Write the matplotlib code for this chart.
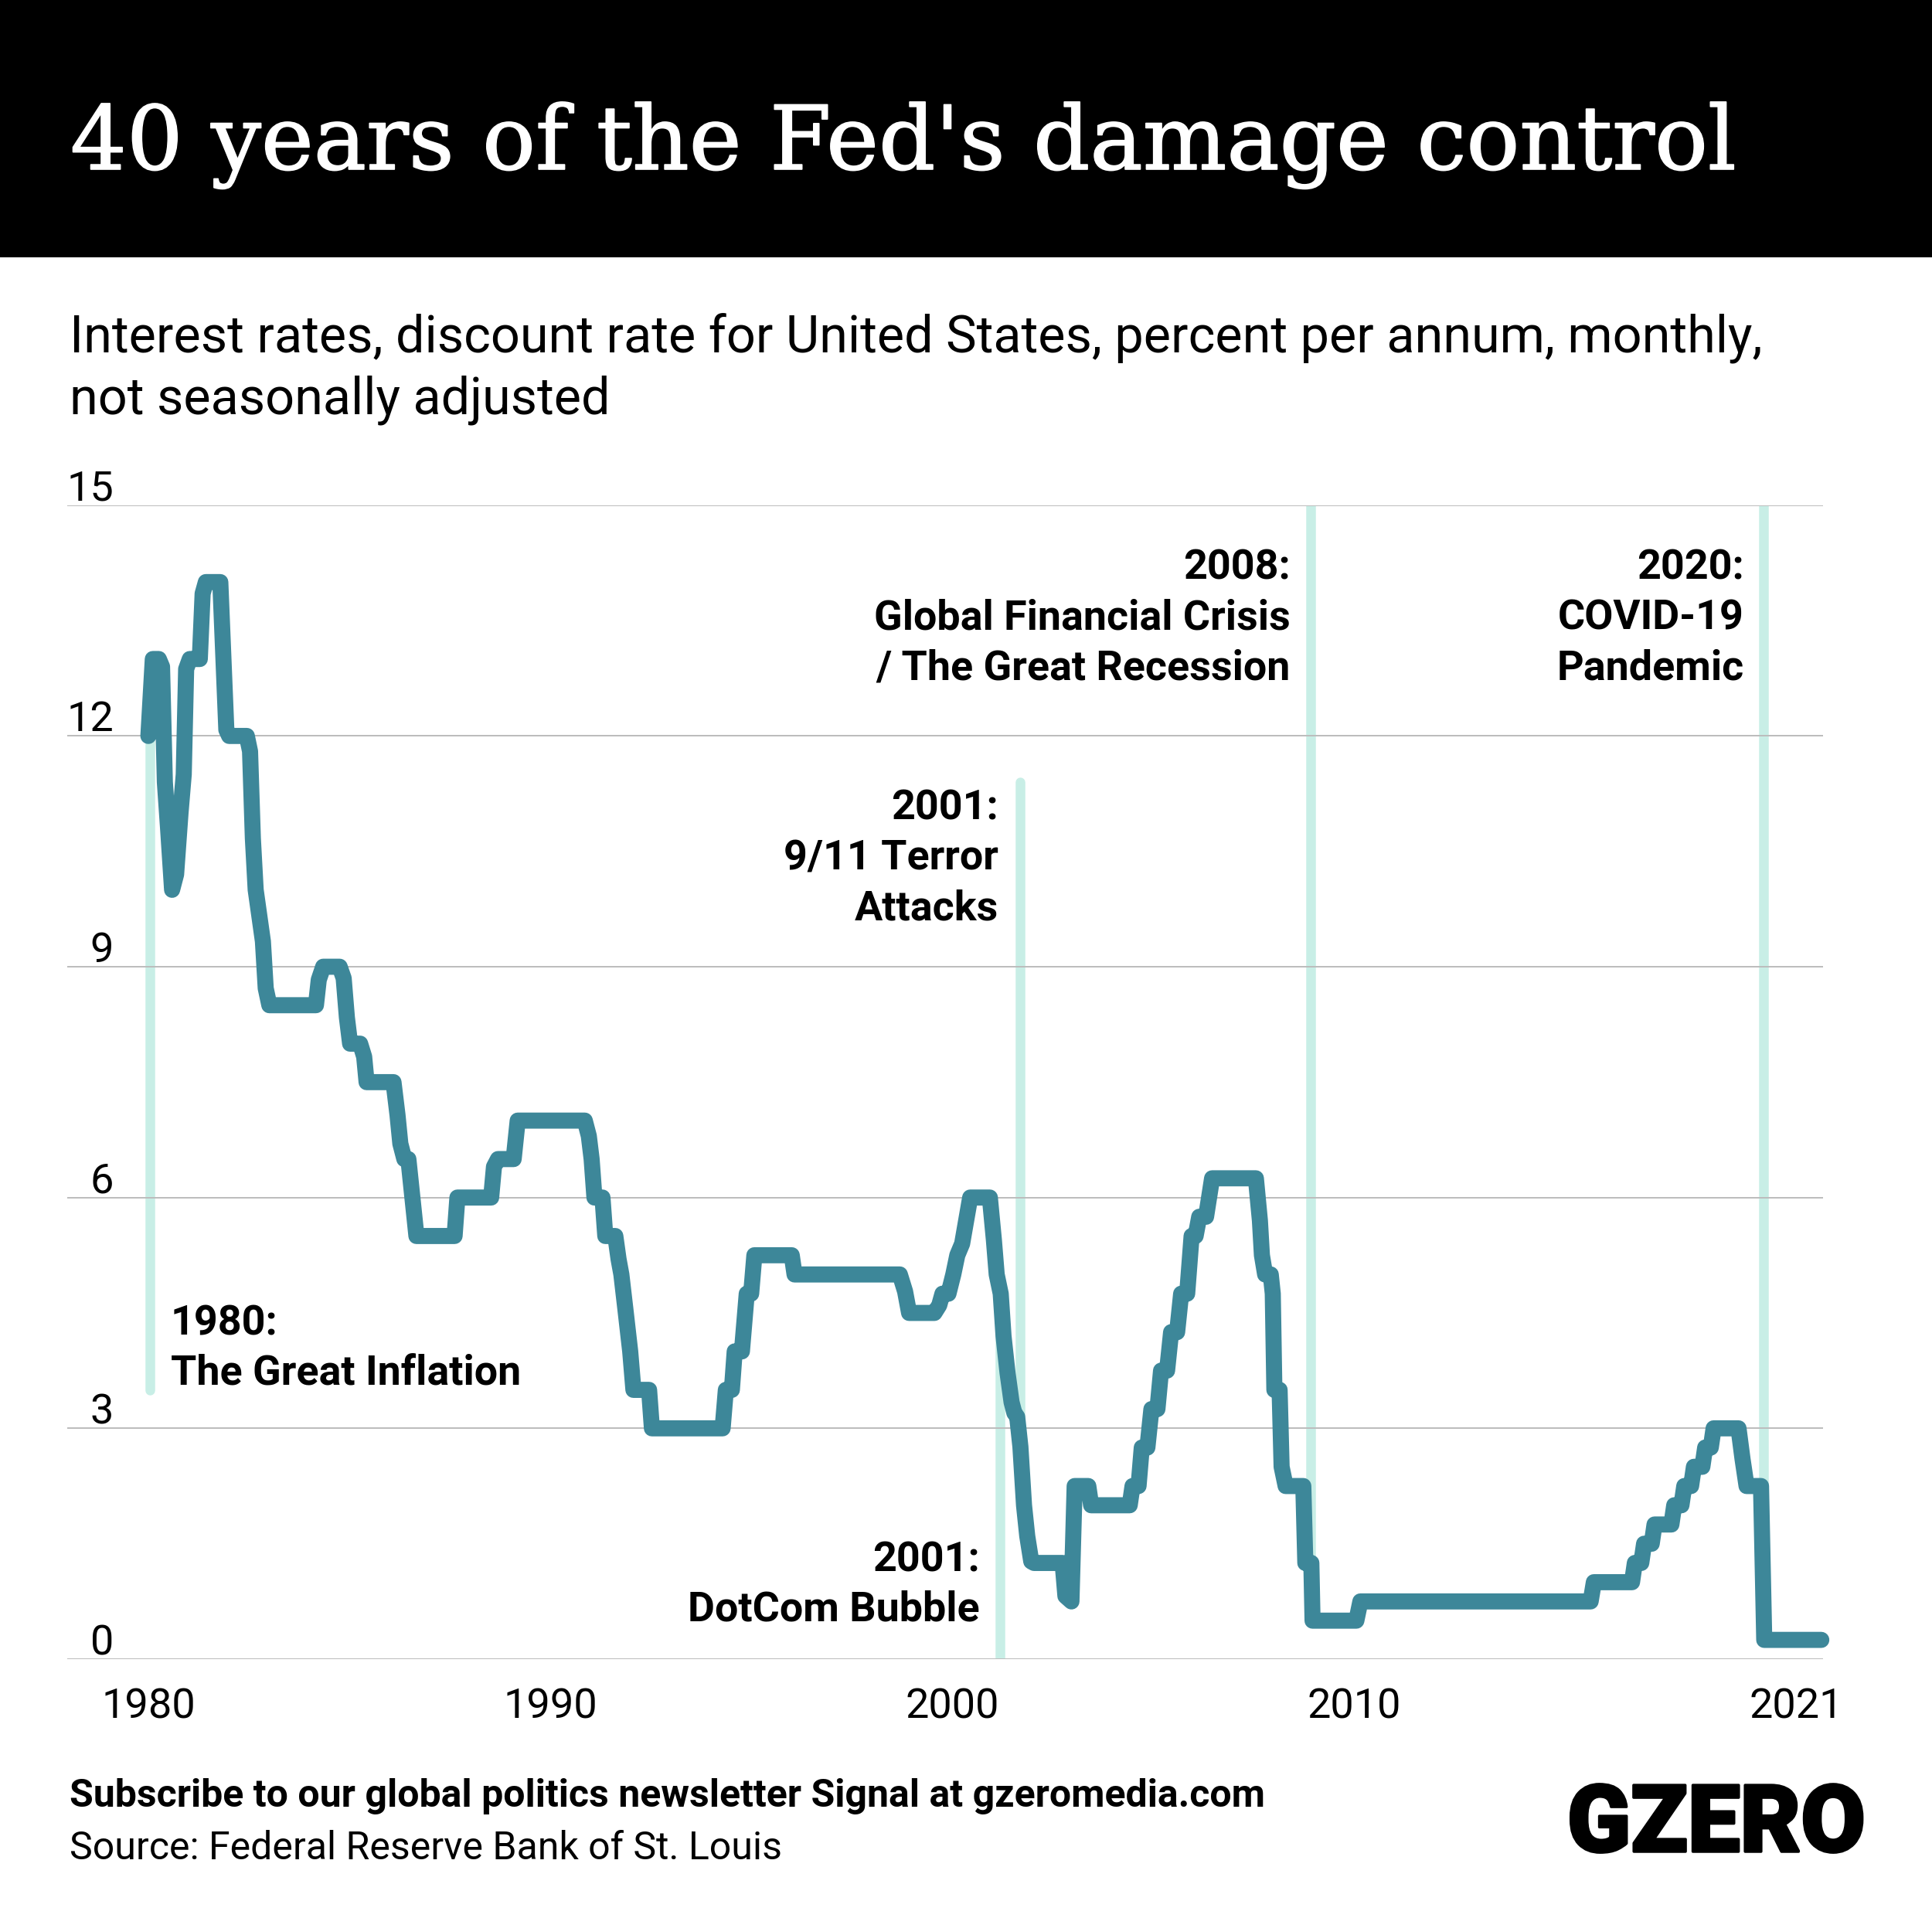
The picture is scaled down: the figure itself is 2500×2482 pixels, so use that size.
#!/usr/bin/env python
"""40 years of the Fed's damage control: US discount rate with crisis markers."""

import matplotlib

matplotlib.use("Agg")
import matplotlib.patheffects as pe
import matplotlib.pyplot as plt

W, H = 2500, 2482
LINE = "#3d8799"
MARK = "#c8eee6"

# --- data --------------------------------------------------------------------
years = [
    1980.00, 1980.11, 1980.26, 1980.34, 1980.41, 1980.49, 1980.59, 1980.69, 1980.80, 1980.88,
    1980.94, 1981.03, 1981.28, 1981.35, 1981.43, 1981.79, 1981.94, 1982.01, 1982.45, 1982.53,
    1982.60, 1982.67, 1982.85, 1982.92, 1983.01, 1984.17, 1984.24, 1984.35, 1984.76, 1984.86,
    1984.94, 1985.02, 1985.27, 1985.37, 1985.43, 1986.10, 1986.20, 1986.27, 1986.37, 1986.47,
    1986.57, 1986.67, 1987.62, 1987.69, 1987.77, 1988.53, 1988.60, 1988.70, 1989.09, 1989.19,
    1990.86, 1990.96, 1991.03, 1991.10, 1991.30, 1991.37, 1991.62, 1991.70, 1991.77, 1991.87,
    1991.99, 1992.07, 1992.46, 1992.53, 1992.60, 1994.29, 1994.37, 1994.52, 1994.59, 1994.77,
    1994.89, 1995.00, 1995.08, 1996.01, 1996.08, 1998.70, 1998.83, 1998.93, 1999.56, 1999.68,
    1999.76, 1999.91, 2000.03, 2000.13, 2000.25, 2000.35, 2000.45, 2000.94, 2001.04, 2001.11,
    2001.21, 2001.28, 2001.38, 2001.48, 2001.55, 2001.62, 2001.70, 2001.79, 2001.87, 2001.97,
    2002.04, 2002.75, 2002.82, 2002.97, 2003.05, 2003.39, 2003.46, 2004.42, 2004.49, 2004.64,
    2004.72, 2004.86, 2004.96, 2005.11, 2005.20, 2005.35, 2005.45, 2005.60, 2005.70, 2005.85,
    2005.96, 2006.06, 2006.15, 2006.32, 2006.47, 2007.56, 2007.66, 2007.71, 2007.79, 2007.93,
    2007.98, 2008.02, 2008.15, 2008.20, 2008.30, 2008.74, 2008.79, 2008.94, 2008.97, 2010.06,
    2010.16, 2015.89, 2015.97, 2016.92, 2016.99, 2017.15, 2017.22, 2017.41, 2017.48, 2017.90,
    2017.97, 2018.15, 2018.22, 2018.39, 2018.46, 2018.67, 2018.74, 2018.88, 2018.95, 2019.57,
    2019.67, 2019.77, 2020.13, 2020.21, 2021.63,
]
rates = [
    12.0, 13.0, 13.0, 12.9, 11.4, 10.8, 10.0, 10.2, 11.0, 11.5,
    12.87, 13.0, 13.0, 13.85, 14.0, 14.0, 12.08, 12.0, 12.0, 11.8,
    10.67, 10.0, 9.33, 8.72, 8.5, 8.5, 8.83, 9.0, 9.0, 8.85,
    8.34, 8.0, 8.0, 7.83, 7.5, 7.5, 7.07, 6.7, 6.5, 6.5,
    6.0, 5.5, 5.5, 6.0, 6.0, 6.0, 6.4, 6.5, 6.5, 7.0,
    7.0, 6.8, 6.5, 6.0, 6.0, 5.5, 5.5, 5.2, 5.0, 4.55,
    4.0, 3.5, 3.5, 3.0, 3.0, 3.0, 3.5, 3.5, 4.0, 4.0,
    4.75, 4.75, 5.25, 5.25, 5.0, 5.0, 4.78, 4.5, 4.5, 4.6,
    4.75, 4.75, 5.0, 5.25, 5.4, 5.7, 6.0, 6.0, 5.45, 5.0,
    4.75, 4.2, 3.72, 3.34, 3.2, 3.15, 2.76, 2.0, 1.6, 1.27,
    1.25, 1.25, 0.82, 0.75, 2.25, 2.25, 2.0, 2.0, 2.25, 2.25,
    2.75, 2.75, 3.25, 3.25, 3.75, 3.75, 4.25, 4.25, 4.75, 4.75,
    5.5, 5.5, 5.75, 5.75, 6.25, 6.25, 5.7, 5.25, 5.0, 5.0,
    4.75, 3.5, 3.5, 2.5, 2.25, 2.25, 1.25, 1.25, 0.5, 0.5,
    0.75, 0.75, 1.0, 1.0, 1.25, 1.25, 1.5, 1.5, 1.75, 1.75,
    2.0, 2.0, 2.25, 2.25, 2.5, 2.5, 2.75, 2.75, 3.0, 3.0,
    2.6, 2.25, 2.25, 0.25, 0.25,
]

event_years = [1980.03, 2001.2, 2001.7, 2008.93, 2020.2]
event_tops = [12.0, 4.7, 11.4, 15.0, 15.0]
event_bottoms = [3.5, 0.0, 3.1, 1.25, 2.25]

y_ticks = [0, 3, 6, 9, 12, 15]
x_ticks = [1980, 1990, 2000, 2010, 2021]


def px(x, y):
    return x / W, 1 - y / H


plt.rcParams["font.family"] = ["Roboto", "DejaVu Sans"]

fig = plt.figure(figsize=(W / 100, H / 100), dpi=100, facecolor="white")

# --- header band -------------------------------------------------------------
fig.patches.append(plt.Rectangle((0, 1 - 333 / H), 1, 333 / H, transform=fig.transFigure,
                                 facecolor="black", edgecolor="none"))
title = fig.text(*px(91, 219), "40 years of the Fed's damage control", color="white",
                 family="DejaVu Serif", fontsize=82.5, va="baseline")
title.set_path_effects([pe.withStroke(linewidth=1.2, foreground="white")])

fig.text(*px(90, 456), "Interest rates, discount rate for United States, percent per annum, monthly,",
         fontsize=47.9, va="baseline")
fig.text(*px(90, 536), "not seasonally adjusted", fontsize=47.9, va="baseline")

# --- chart -------------------------------------------------------------------
left, right, top, bottom = 87, 2359, 653.7, 2147
ax = fig.add_axes([left / W, 1 - bottom / H, (right - left) / W, (bottom - top) / H])
ax.set_xlim(1980 + (left - 192) / 52, 1980 + (right - 192) / 52)
ax.set_ylim(0, 15)
ax.patch.set_alpha(0)
for s in ax.spines.values():
    s.set_visible(False)

ax.set_axisbelow(False)
ax.vlines(event_years, event_bottoms, event_tops, color=MARK, lw=9, zorder=1, capstyle="round")
ax.plot(years, rates, color=LINE, lw=15, solid_joinstyle="round", solid_capstyle="round",
        zorder=3, clip_on=False)

ax.set_yticks(y_ticks)
ax.set_yticklabels([])
ax.grid(axis="y", color="#bcbcbc", lw=1.4)
ax.set_xticks(x_ticks)
ax.set_xticklabels([str(y) for y in x_ticks], fontsize=39)
ax.tick_params(axis="both", length=0)
ax.tick_params(axis="x", pad=26)

for v in y_ticks:
    ax.annotate(str(v), (1980 + (147 - 192) / 52, v), xytext=(0, 6), textcoords="offset pixels",
                ha="right", va="baseline", fontsize=39)

# --- crisis notes, one text per line -----------------------------------------
notes = [
    (221, "left", [1728, 1792], ["1980:", "The Great Inflation"]),
    (1292, "right", [1060.5, 1125.5, 1190.5], ["2001:", "9/11 Terror", "Attacks"]),
    (1268, "right", [2033, 2098], ["2001:", "DotCom Bubble"]),
    (1670, "right", [749.5, 814.5, 879.5], ["2008:", "Global Financial Crisis", "/ The Great Recession"]),
    (2257, "right", [749.5, 814.5, 879.5], ["2020:", "COVID-19", "Pandemic"]),
]
for x, ha, ys, lines in notes:
    for y, line in zip(ys, lines):
        fig.text(*px(x, y), line, ha=ha, va="baseline", fontsize=38.8, fontweight="bold")

# --- footer ------------------------------------------------------------------
fig.text(*px(90, 2338), "Subscribe to our global politics newsletter Signal at gzeromedia.com",
         fontsize=36, fontweight="bold", va="baseline")
fig.text(*px(90, 2406), "Source: Federal Reserve Bank of St. Louis", fontsize=36, va="baseline")
logo = fig.text(*px(2414, 2396), "GZERO", ha="right", va="baseline", fontsize=87, fontweight="black")
logo.set_path_effects([pe.withStroke(linewidth=2.5, foreground="black")])

fig.savefig("out.png", dpi=100)
